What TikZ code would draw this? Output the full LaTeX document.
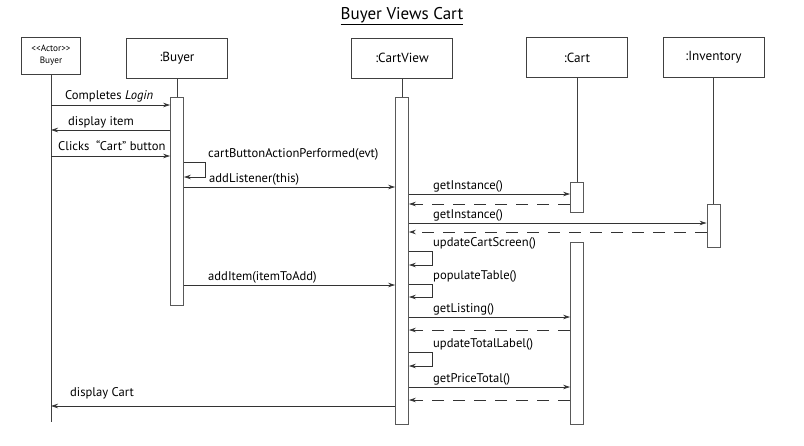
\documentclass[tikz,border=0pt]{standalone}
\usepackage{fontspec}
\setmainfont{PT Sans}
\usetikzlibrary{arrows.meta,positioning}

\begin{document}
\begin{tikzpicture}[x=1pt, y=-1pt, >={Stealth[length=7pt,width=4.5pt]},
    objbox/.style={draw=black!75, line width=0.8pt, minimum width=101pt, minimum height=40pt,
      inner sep=0pt, font=\fontsize{13.2}{15}\selectfont},
    actbox/.style={draw=black!65, fill=white, line width=0.9pt, minimum width=13pt, inner sep=0pt},
    life/.style={draw=black!75, line width=0.7pt},
    msg/.style={->, line width=0.7pt, draw=black!80},
    ret/.style={->, line width=0.7pt, draw=black!80, dash pattern=on 12pt off 9pt},
    lbl/.style={anchor=base west, inner sep=0pt, font=\fontsize{12.6}{14}\selectfont}]
    \useasboundingbox (0,0) rectangle (804,445);

    % title
    \node[inner sep=1pt, font=\fontsize{17}{20}\selectfont] (title) at (402,16) {\underline{Buyer Views Cart}};

    % objects
    \node[objbox, minimum width=59pt, minimum height=37pt, align=center,
      font=\fontsize{9.2}{12}\selectfont] (actor) at (51,55.5)
      {<\kern0pt<Actor>\kern0pt>\\Buyer};
    \node[objbox] (buyer) at (177,58) {:Buyer};
    \node[objbox] (cartview) at (402,58) {:CartView};
    \node[objbox] (cart) at (577,57.5) {:Cart};
    \node[objbox] (inventory) at (713.5,57.5) {:Inventory};

    % activations
    \node[actbox, minimum height=208pt] (buyerAct) at (177,201) {};
    \node[actbox, minimum height=327pt] (viewAct) at (402,260.5) {};
    \node[actbox, minimum height=30pt] (cartAct1) at (577,197) {};
    \node[actbox, minimum height=182pt] (cartAct2) at (577,333) {};
    \node[actbox, minimum height=43pt] (invAct) at (713.5,225.5) {};
    \coordinate (actorEnd) at (51,422);

    % lifelines
    \draw[life] (actor) -- (actorEnd);
    \draw[life] (buyer) -- (buyerAct);
    \draw[life] (cartview) -- (viewAct);
    \draw[life] (cart) -- (cartAct1);
    \draw[life] (inventory) -- (invAct);

    % messages
    \draw[msg] (actor.south |- 0,105) -- (buyerAct.west |- 0,105);
    \node[lbl] (l1) at (65,99) {Completes \textit{Login}};
    \draw[msg] (buyerAct.west |- 0,130) -- (actor.south |- 0,130);
    \node[lbl] (l2) at (68,125) {display item};
    \draw[msg] (actor.south |- 0,156) -- (buyerAct.west |- 0,156);
    \node[lbl] (l3) at (58,150) {Clicks~ “Cart” button};
    \draw[msg] (buyerAct.east |- 0,162) -- ++(21,0) |- (buyerAct.east |- 0,177);
    \node[lbl] (l4) at (208,157) {cartButtonActionPerformed(evt)};
    \draw[msg] (buyerAct.east |- 0,187) -- (viewAct.west |- 0,187);
    \node[lbl] (l5) at (209,182) {addListener(this)};

    \draw[msg] (viewAct.east |- 0,194) -- (cartAct1.west |- 0,194);
    \node[lbl] (l6) at (433,189) {getInstance()};
    \draw[ret] (cartAct1.west |- 0,204) -- (viewAct.east |- 0,204);
    \draw[msg] (viewAct.east |- 0,223) -- (invAct.west |- 0,223);
    \node[lbl] (l7) at (433,218) {getInstance()};
    \draw[ret] (invAct.west |- 0,232) -- (viewAct.east |- 0,232);

    \draw[msg] (viewAct.east |- 0,251) -- ++(23,0) |- (viewAct.east |- 0,265);
    \node[lbl] (l8) at (433,246) {updateCartScreen()};
    \draw[msg] (buyerAct.east |- 0,285) -- (viewAct.west |- 0,285);
    \node[lbl] (l9) at (208,280) {addItem(itemToAdd)};
    \draw[msg] (viewAct.east |- 0,284) -- ++(23,0) |- (viewAct.east |- 0,297);
    \node[lbl] (l10) at (433,279) {populateTable()};

    \draw[msg] (viewAct.east |- 0,317) -- (cartAct2.west |- 0,317);
    \node[lbl] (l11) at (433,312) {getListing()};
    \draw[ret] (cartAct2.west |- 0,330) -- (viewAct.east |- 0,330);
    \draw[msg] (viewAct.east |- 0,352) -- ++(23,0) |- (viewAct.east |- 0,366);
    \node[lbl] (l12) at (433,347) {updateTotalLabel()};
    \draw[msg] (viewAct.east |- 0,387) -- (cartAct2.west |- 0,387);
    \node[lbl] (l13) at (433,382) {getPriceTotal()};
    \draw[ret] (cartAct2.west |- 0,400) -- (viewAct.east |- 0,400);

    \draw[msg] (viewAct.west |- 0,406) -- (actor.south |- 0,406);
    \node[lbl] (l14) at (70,396) {display Cart};
\end{tikzpicture}
\end{document}
